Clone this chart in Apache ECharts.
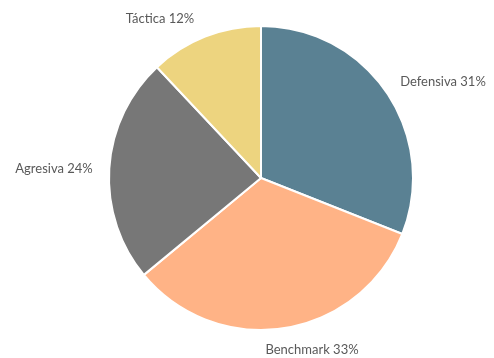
<!DOCTYPE html>
<html>
<head>
<meta charset="utf-8">
<script src="https://cdn.jsdelivr.net/npm/echarts@6/dist/echarts.min.js"></script>
<style>
html,body{margin:0;padding:0;background:#fff;}
#chart{width:494px;height:358px;}
</style>
</head>
<body>
<div id="chart"></div>
<script>
var categories = ['Defensiva', 'Benchmark', 'Agresiva', 'Táctica'];
var values = [31, 33, 24, 12];
var colors = ['#5A8193', '#FFB386', '#777777', '#EDD47F'];
// label centres (layout only)
var labelPos = [[443, 82], [312, 350], [54, 169], [160, 19]];

var chart = echarts.init(document.getElementById('chart'));
chart.setOption({
  animation: false,
  series: [{
    type: 'pie',
    center: [261, 178],
    radius: 152,
    startAngle: 90,
    clockwise: true,
    avoidLabelOverlap: false,
    data: categories.map(function (c, i) {
      return { name: c, value: values[i], itemStyle: { color: colors[i] } };
    }),
    itemStyle: { borderColor: '#ffffff', borderWidth: 2 },
    label: {
      show: true,
      position: 'outside',
      overflow: 'none',
      width: 200,
      formatter: function (p) { return p.name + ' ' + p.value + '%'; },
      fontFamily: 'Lato',
      fontSize: 13,
      color: '#595959'
    },
    labelLine: { show: false },
    labelLayout: function (p) {
      var pos = labelPos[p.dataIndex];
      return { x: pos[0], y: pos[1], align: 'center', verticalAlign: 'middle' };
    },
    emphasis: { disabled: true }
  }]
});
</script>
</body>
</html>
